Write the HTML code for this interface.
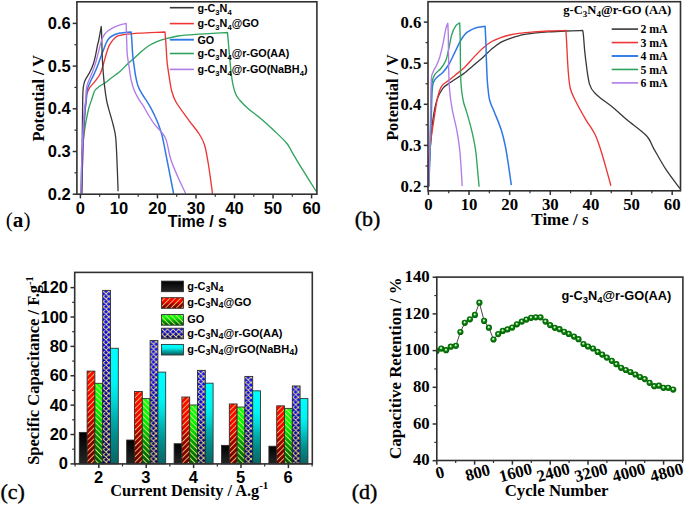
<!DOCTYPE html>
<html><head><meta charset="utf-8"><style>
html,body{margin:0;padding:0;background:#fff;}
svg{display:block;}
</style></head><body>
<svg width="685" height="505" viewBox="0 0 685 505">
<defs>
<linearGradient id="gK" x1="0" y1="0" x2="0" y2="1"><stop offset="0" stop-color="#000"/><stop offset="1" stop-color="#262626"/></linearGradient>
<linearGradient id="gR" x1="0" y1="0" x2="0" y2="1"><stop offset="0" stop-color="#ff0800"/><stop offset="0.3" stop-color="#ff0000"/><stop offset="0.45" stop-color="#e40000"/><stop offset="0.6" stop-color="#a80000"/><stop offset="0.75" stop-color="#8a0000"/><stop offset="1" stop-color="#6c0000"/></linearGradient>
<linearGradient id="gG" x1="0" y1="0" x2="0" y2="1"><stop offset="0" stop-color="#18ff18"/><stop offset="0.3" stop-color="#00f600"/><stop offset="0.45" stop-color="#00d400"/><stop offset="0.6" stop-color="#00a400"/><stop offset="0.75" stop-color="#008400"/><stop offset="1" stop-color="#005600"/></linearGradient>
<linearGradient id="gB" x1="0" y1="0" x2="0" y2="1"><stop offset="0" stop-color="#1414ff"/><stop offset="0.3" stop-color="#0000f4"/><stop offset="0.45" stop-color="#0000d4"/><stop offset="0.6" stop-color="#0000aa"/><stop offset="0.75" stop-color="#00008c"/><stop offset="1" stop-color="#000062"/></linearGradient>
<linearGradient id="gC" x1="0" y1="0" x2="0" y2="1"><stop offset="0" stop-color="#00ffff"/><stop offset="0.3" stop-color="#00f4f4"/><stop offset="0.45" stop-color="#00d8d8"/><stop offset="0.6" stop-color="#00b0b0"/><stop offset="0.75" stop-color="#008e8e"/><stop offset="1" stop-color="#0a6464"/></linearGradient>
<pattern id="pR" width="3.8" height="10" patternUnits="userSpaceOnUse" patternTransform="rotate(45)"><rect x="0" y="0" width="0.95" height="10" fill="#e4bc5c"/></pattern>
<pattern id="pG" width="3.8" height="10" patternUnits="userSpaceOnUse" patternTransform="rotate(-45)"><rect x="0" y="0" width="0.95" height="10" fill="#d4e478"/></pattern>
<radialGradient id="ball" cx="0.5" cy="0.5" r="0.5" fx="0.45" fy="0.38"><stop offset="0" stop-color="#ffffff"/><stop offset="0.22" stop-color="#b8e0b8"/><stop offset="0.45" stop-color="#0c880c"/><stop offset="1" stop-color="#005a00"/></radialGradient>
<clipPath id="clipD"><rect x="436.8" y="277.1" width="246.1" height="183.4"/></clipPath><pattern id="pX1" x="103.20" y="291.35" width="5.600" height="5.100" patternUnits="userSpaceOnUse"><path d="M-1.000 -6.011L6.600 0.911M-1.000 0.911L6.600 -6.011M-1.000 -0.911L6.600 6.011M-1.000 6.011L6.600 -0.911M-1.000 4.189L6.600 11.111M-1.000 11.111L6.600 4.189" stroke="#eedc74" stroke-width="1.0" fill="none"/></pattern>
<pattern id="pX2" x="150.60" y="341.58" width="5.600" height="5.100" patternUnits="userSpaceOnUse"><path d="M-1.000 -6.011L6.600 0.911M-1.000 0.911L6.600 -6.011M-1.000 -0.911L6.600 6.011M-1.000 6.011L6.600 -0.911M-1.000 4.189L6.600 11.111M-1.000 11.111L6.600 4.189" stroke="#eedc74" stroke-width="1.0" fill="none"/></pattern>
<pattern id="pX3" x="198.00" y="371.35" width="5.600" height="5.100" patternUnits="userSpaceOnUse"><path d="M-1.000 -6.011L6.600 0.911M-1.000 0.911L6.600 -6.011M-1.000 -0.911L6.600 6.011M-1.000 6.011L6.600 -0.911M-1.000 4.189L6.600 11.111M-1.000 11.111L6.600 4.189" stroke="#eedc74" stroke-width="1.0" fill="none"/></pattern>
<pattern id="pX4" x="245.40" y="377.39" width="5.600" height="5.100" patternUnits="userSpaceOnUse"><path d="M-1.000 -6.011L6.600 0.911M-1.000 0.911L6.600 -6.011M-1.000 -0.911L6.600 6.011M-1.000 6.011L6.600 -0.911M-1.000 4.189L6.600 11.111M-1.000 11.111L6.600 4.189" stroke="#eedc74" stroke-width="1.0" fill="none"/></pattern>
<pattern id="pX5" x="292.80" y="386.96" width="5.600" height="5.100" patternUnits="userSpaceOnUse"><path d="M-1.000 -6.011L6.600 0.911M-1.000 0.911L6.600 -6.011M-1.000 -0.911L6.600 6.011M-1.000 6.011L6.600 -0.911M-1.000 4.189L6.600 11.111M-1.000 11.111L6.600 4.189" stroke="#eedc74" stroke-width="1.0" fill="none"/></pattern>
<pattern id="pX6" x="161.90" y="329.20" width="5.600" height="5.100" patternUnits="userSpaceOnUse"><path d="M-1.000 -6.011L6.600 0.911M-1.000 0.911L6.600 -6.011M-1.000 -0.911L6.600 6.011M-1.000 6.011L6.600 -0.911M-1.000 4.189L6.600 11.111M-1.000 11.111L6.600 4.189" stroke="#eedc74" stroke-width="1.0" fill="none"/></pattern></defs>
<rect x="0" y="0" width="685" height="505" fill="#fff"/>
<path d="M80.80 193.60C80.92 189.67 81.27 176.98 81.50 170.00C81.73 163.02 81.67 158.47 82.20 151.70C82.73 144.93 83.67 136.42 84.70 129.40C85.73 122.38 87.25 114.52 88.40 109.60C89.55 104.68 90.57 103.00 91.60 99.90C92.63 96.80 93.30 93.27 94.60 91.00C95.90 88.73 97.62 87.68 99.40 86.30C101.18 84.92 103.53 83.92 105.30 82.70C107.07 81.48 107.57 80.85 110.00 79.00C112.43 77.15 116.93 74.15 119.90 71.60C122.87 69.05 125.32 66.02 127.80 63.70C130.28 61.38 132.48 59.77 134.80 57.70C137.12 55.63 139.23 53.37 141.70 51.30C144.17 49.23 146.97 46.95 149.60 45.30C152.23 43.65 154.87 42.47 157.50 41.40C160.13 40.33 162.02 39.80 165.40 38.90C168.78 38.00 172.77 36.77 177.80 36.00C182.83 35.23 187.32 34.88 195.60 34.30C203.88 33.72 222.18 32.80 227.50 32.50C227.73 35.22 228.33 42.47 228.90 48.80C229.47 55.13 230.23 64.57 230.90 70.50C231.57 76.43 232.08 80.43 232.90 84.40C233.72 88.37 234.65 91.67 235.80 94.30C236.95 96.93 237.82 97.88 239.80 100.20C241.78 102.52 244.73 105.55 247.70 108.20C250.67 110.85 254.30 113.38 257.60 116.10C260.90 118.82 264.77 122.10 267.50 124.50C270.23 126.90 270.83 127.42 274.00 130.50C277.17 133.58 283.52 139.43 286.50 143.00C289.48 146.57 289.22 147.45 291.90 151.90C294.58 156.35 298.53 163.10 302.60 169.70C306.67 176.30 314.02 187.87 316.30 191.50" fill="none" stroke="#2ea35c" stroke-width="1.35" stroke-linejoin="round"/>
<path d="M81.80 193.60C81.93 188.00 82.15 172.27 82.60 160.00C83.05 147.73 83.85 130.50 84.50 120.00C85.15 109.50 86.00 101.63 86.50 97.00C87.00 92.37 86.93 93.80 87.50 92.20C88.07 90.60 88.52 89.38 89.90 87.40C91.28 85.42 94.03 82.67 95.80 80.30C97.57 77.93 99.22 75.97 100.50 73.20C101.78 70.43 102.50 67.07 103.50 63.70C104.50 60.33 105.68 55.72 106.50 53.00C107.32 50.28 107.82 48.87 108.40 47.40C108.98 45.93 109.23 45.45 110.00 44.20C110.77 42.95 111.85 41.20 113.00 39.90C114.15 38.60 115.42 37.22 116.90 36.40C118.38 35.58 119.60 35.42 121.90 35.00C124.20 34.58 127.75 34.20 130.70 33.90C133.65 33.60 136.45 33.40 139.60 33.20C142.75 33.00 145.37 32.90 149.60 32.70C153.83 32.50 162.43 32.12 165.00 32.00C165.17 34.15 165.68 40.28 166.00 44.90C166.32 49.52 166.62 56.03 166.90 59.70C167.18 63.37 167.27 63.72 167.70 66.90C168.13 70.08 168.85 74.85 169.50 78.80C170.15 82.75 170.52 86.73 171.60 90.60C172.68 94.47 173.18 97.13 176.00 102.00C178.82 106.87 184.63 114.47 188.50 119.80C192.37 125.13 196.53 129.85 199.20 134.00C201.87 138.15 203.02 139.95 204.50 144.70C205.98 149.45 206.90 155.37 208.10 162.50C209.30 169.63 210.98 182.32 211.70 187.50C212.42 192.68 212.28 192.58 212.40 193.60" fill="none" stroke="#ee3535" stroke-width="1.35" stroke-linejoin="round"/>
<path d="M81.50 193.60C81.67 188.00 82.18 170.28 82.50 160.00C82.82 149.72 82.98 140.23 83.40 131.90C83.82 123.57 84.52 115.33 85.00 110.00C85.48 104.67 85.98 103.07 86.30 99.90C86.62 96.73 86.30 93.87 86.90 91.00C87.50 88.13 88.82 85.27 89.90 82.70C90.98 80.13 92.22 78.17 93.40 75.60C94.58 73.03 95.82 70.27 97.00 67.30C98.18 64.33 99.32 60.97 100.50 57.80C101.68 54.63 103.08 50.92 104.10 48.30C105.12 45.68 105.62 43.92 106.60 42.10C107.58 40.28 108.60 38.67 110.00 37.40C111.40 36.13 113.35 35.23 115.00 34.50C116.65 33.77 118.25 33.33 119.90 33.00C121.55 32.67 123.03 32.68 124.90 32.50C126.77 32.32 130.07 32.00 131.10 31.90C131.22 33.23 131.53 36.05 131.80 39.90C132.07 43.75 132.35 50.90 132.70 55.00C133.05 59.10 133.40 60.93 133.90 64.50C134.40 68.07 135.02 72.83 135.70 76.40C136.38 79.97 136.92 82.93 138.00 85.90C139.08 88.87 140.72 91.63 142.20 94.20C143.68 96.77 145.52 99.12 146.90 101.30C148.28 103.48 149.30 105.12 150.50 107.30C151.70 109.48 152.82 111.65 154.10 114.40C155.38 117.15 156.87 120.27 158.20 123.80C159.53 127.33 160.78 130.33 162.10 135.60C163.42 140.87 164.78 148.80 166.10 155.40C167.42 162.00 168.75 168.83 170.00 175.20C171.25 181.57 173.00 190.53 173.60 193.60" fill="none" stroke="#2f78e6" stroke-width="1.5" stroke-linejoin="round"/>
<path d="M81.60 193.00C81.70 184.83 82.02 159.52 82.20 144.00C82.38 128.48 82.52 109.33 82.70 99.90C82.88 90.47 82.90 90.67 83.30 87.40C83.70 84.13 84.00 82.87 85.10 80.30C86.20 77.73 88.52 74.77 89.90 72.00C91.28 69.23 92.42 66.67 93.40 63.70C94.38 60.73 95.10 57.37 95.80 54.20C96.50 51.03 97.10 47.07 97.60 44.70C98.10 42.33 98.20 43.03 98.80 40.00C99.40 36.97 100.80 28.75 101.20 26.50C101.27 27.58 101.42 27.78 101.60 33.00C101.78 38.22 101.98 50.70 102.30 57.80C102.62 64.90 103.10 70.67 103.50 75.60C103.90 80.53 104.20 83.35 104.70 87.40C105.20 91.45 105.92 96.62 106.50 99.90C107.08 103.18 107.10 103.00 108.20 107.10C109.30 111.20 111.87 119.55 113.10 124.50C114.33 129.45 114.98 131.45 115.60 136.80C116.22 142.15 116.38 147.52 116.80 156.60C117.22 165.68 117.88 185.52 118.10 191.30" fill="none" stroke="#383838" stroke-width="1.3" stroke-linejoin="round"/>
<path d="M81.00 193.60C81.13 188.00 81.43 171.43 81.80 160.00C82.17 148.57 82.73 133.67 83.20 125.00C83.67 116.33 84.18 112.18 84.60 108.00C85.02 103.82 85.42 102.93 85.70 99.90C85.98 96.87 86.00 92.47 86.30 89.80C86.60 87.13 86.72 86.27 87.50 83.90C88.28 81.53 89.82 78.57 91.00 75.60C92.18 72.63 93.60 69.07 94.60 66.10C95.60 63.13 96.20 60.77 97.00 57.80C97.80 54.83 98.62 51.27 99.40 48.30C100.18 45.33 100.80 42.38 101.70 40.00C102.60 37.62 103.68 35.58 104.80 34.00C105.92 32.42 107.07 31.53 108.40 30.50C109.73 29.47 111.32 28.58 112.80 27.80C114.28 27.02 115.82 26.37 117.30 25.80C118.78 25.23 120.22 24.78 121.70 24.40C123.18 24.02 125.45 23.65 126.20 23.50C126.25 25.42 126.40 31.43 126.50 35.00C126.60 38.57 126.67 41.57 126.80 44.90C126.93 48.23 126.92 51.33 127.30 55.00C127.68 58.67 128.50 62.93 129.10 66.90C129.70 70.87 130.10 75.05 130.90 78.80C131.70 82.55 132.62 86.05 133.90 89.40C135.18 92.75 137.02 96.12 138.60 98.90C140.18 101.68 141.82 103.52 143.40 106.10C144.98 108.68 146.30 111.45 148.10 114.40C149.90 117.35 152.03 120.92 154.20 123.80C156.37 126.68 159.12 129.07 161.10 131.70C163.08 134.33 164.50 135.05 166.10 139.60C167.70 144.15 168.75 152.80 170.70 159.00C172.65 165.20 175.30 171.03 177.80 176.80C180.30 182.57 184.38 190.80 185.70 193.60" fill="none" stroke="#b07ce8" stroke-width="1.35" stroke-linejoin="round"/>
<rect x="76.90" y="1.80" width="240.00" height="192.40" fill="none" stroke="#303030" stroke-width="1.6"/>
<line x1="72.70" y1="194.20" x2="76.90" y2="194.20" stroke="#303030" stroke-width="1.5" />
<text x="70.80" y="199.60" font-family='"Liberation Sans", sans-serif' font-size="16.5" font-weight="bold" text-anchor="end" >0.2</text>
<line x1="72.70" y1="151.50" x2="76.90" y2="151.50" stroke="#303030" stroke-width="1.5" />
<text x="70.80" y="156.90" font-family='"Liberation Sans", sans-serif' font-size="16.5" font-weight="bold" text-anchor="end" >0.3</text>
<line x1="72.70" y1="108.80" x2="76.90" y2="108.80" stroke="#303030" stroke-width="1.5" />
<text x="70.80" y="114.20" font-family='"Liberation Sans", sans-serif' font-size="16.5" font-weight="bold" text-anchor="end" >0.4</text>
<line x1="72.70" y1="66.10" x2="76.90" y2="66.10" stroke="#303030" stroke-width="1.5" />
<text x="70.80" y="71.50" font-family='"Liberation Sans", sans-serif' font-size="16.5" font-weight="bold" text-anchor="end" >0.5</text>
<line x1="72.70" y1="23.40" x2="76.90" y2="23.40" stroke="#303030" stroke-width="1.5" />
<text x="70.80" y="28.80" font-family='"Liberation Sans", sans-serif' font-size="16.5" font-weight="bold" text-anchor="end" >0.6</text>
<line x1="74.40" y1="172.85" x2="76.90" y2="172.85" stroke="#303030" stroke-width="1.2" />
<line x1="74.40" y1="130.15" x2="76.90" y2="130.15" stroke="#303030" stroke-width="1.2" />
<line x1="74.40" y1="87.45" x2="76.90" y2="87.45" stroke="#303030" stroke-width="1.2" />
<line x1="74.40" y1="44.75" x2="76.90" y2="44.75" stroke="#303030" stroke-width="1.2" />
<line x1="80.40" y1="194.20" x2="80.40" y2="198.40" stroke="#303030" stroke-width="1.5" />
<text x="80.40" y="213.60" font-family='"Liberation Sans", sans-serif' font-size="16.5" font-weight="bold" text-anchor="middle" >0</text>
<line x1="118.93" y1="194.20" x2="118.93" y2="198.40" stroke="#303030" stroke-width="1.5" />
<text x="118.93" y="213.60" font-family='"Liberation Sans", sans-serif' font-size="16.5" font-weight="bold" text-anchor="middle" >10</text>
<line x1="157.46" y1="194.20" x2="157.46" y2="198.40" stroke="#303030" stroke-width="1.5" />
<text x="157.46" y="213.60" font-family='"Liberation Sans", sans-serif' font-size="16.5" font-weight="bold" text-anchor="middle" >20</text>
<line x1="195.99" y1="194.20" x2="195.99" y2="198.40" stroke="#303030" stroke-width="1.5" />
<text x="195.99" y="213.60" font-family='"Liberation Sans", sans-serif' font-size="16.5" font-weight="bold" text-anchor="middle" >30</text>
<line x1="234.52" y1="194.20" x2="234.52" y2="198.40" stroke="#303030" stroke-width="1.5" />
<text x="234.52" y="213.60" font-family='"Liberation Sans", sans-serif' font-size="16.5" font-weight="bold" text-anchor="middle" >40</text>
<line x1="273.05" y1="194.20" x2="273.05" y2="198.40" stroke="#303030" stroke-width="1.5" />
<text x="273.05" y="213.60" font-family='"Liberation Sans", sans-serif' font-size="16.5" font-weight="bold" text-anchor="middle" >50</text>
<line x1="311.58" y1="194.20" x2="311.58" y2="198.40" stroke="#303030" stroke-width="1.5" />
<text x="311.58" y="213.60" font-family='"Liberation Sans", sans-serif' font-size="16.5" font-weight="bold" text-anchor="middle" >60</text>
<line x1="99.67" y1="194.20" x2="99.67" y2="196.70" stroke="#303030" stroke-width="1.2" />
<line x1="138.19" y1="194.20" x2="138.19" y2="196.70" stroke="#303030" stroke-width="1.2" />
<line x1="176.73" y1="194.20" x2="176.73" y2="196.70" stroke="#303030" stroke-width="1.2" />
<line x1="215.26" y1="194.20" x2="215.26" y2="196.70" stroke="#303030" stroke-width="1.2" />
<line x1="253.79" y1="194.20" x2="253.79" y2="196.70" stroke="#303030" stroke-width="1.2" />
<line x1="292.32" y1="194.20" x2="292.32" y2="196.70" stroke="#303030" stroke-width="1.2" />
<text x="44.20" y="98.20" font-family='"Liberation Serif", serif' font-size="16.3" font-weight="bold" text-anchor="middle" transform="rotate(-90 44.2 98.2)">Potential / V</text>
<text x="197.30" y="226.50" font-family='"Liberation Sans", sans-serif' font-size="16" font-weight="bold" text-anchor="middle" >Time / s</text>
<text x="5.80" y="226.80" font-family='"Liberation Serif", serif' font-size="21.2" font-weight="normal" text-anchor="start" >(<tspan font-weight="bold">a</tspan>)</text>
<line x1="169.80" y1="7.70" x2="193.90" y2="7.70" stroke="#383838" stroke-width="1.6" />
<g transform="translate(197.40 11.50) scale(0.955 1)"><text x="0" y="0" font-family='"Liberation Sans", sans-serif' font-size="11.3" font-weight="bold" text-anchor="start" >g-C<tspan baseline-shift="-3" font-size="8">3</tspan>N<tspan baseline-shift="-3" font-size="8">4</tspan></text></g>
<line x1="169.80" y1="23.60" x2="193.90" y2="23.60" stroke="#ee3535" stroke-width="1.6" />
<g transform="translate(197.40 27.40) scale(0.955 1)"><text x="0" y="0" font-family='"Liberation Sans", sans-serif' font-size="11.3" font-weight="bold" text-anchor="start" >g-C<tspan baseline-shift="-3" font-size="8">3</tspan>N<tspan baseline-shift="-3" font-size="8">4</tspan>@GO</text></g>
<line x1="169.80" y1="39.70" x2="193.90" y2="39.70" stroke="#2f78e6" stroke-width="1.9" />
<g transform="translate(197.40 43.50) scale(0.955 1)"><text x="0" y="0" font-family='"Liberation Sans", sans-serif' font-size="11.3" font-weight="bold" text-anchor="start" >GO</text></g>
<line x1="169.80" y1="53.50" x2="193.90" y2="53.50" stroke="#2ea35c" stroke-width="1.6" />
<g transform="translate(197.40 57.30) scale(0.955 1)"><text x="0" y="0" font-family='"Liberation Sans", sans-serif' font-size="11.3" font-weight="bold" text-anchor="start" >g-C<tspan baseline-shift="-3" font-size="8">3</tspan>N<tspan baseline-shift="-3" font-size="8">4</tspan>@r-GO(AA)</text></g>
<line x1="169.80" y1="69.40" x2="193.90" y2="69.40" stroke="#b07ce8" stroke-width="1.6" />
<g transform="translate(197.40 73.20) scale(0.955 1)"><text x="0" y="0" font-family='"Liberation Sans", sans-serif' font-size="11.3" font-weight="bold" text-anchor="start" >g-C<tspan baseline-shift="-3" font-size="8">3</tspan>N<tspan baseline-shift="-3" font-size="8">4</tspan>@r-GO(NaBH<tspan baseline-shift="-3" font-size="8">4</tspan>)</text></g>
<path d="M428.50 186.50C428.67 181.98 428.77 170.52 429.50 159.40C430.23 148.28 431.67 129.68 432.90 119.80C434.13 109.92 435.25 105.35 436.90 100.10C438.55 94.85 440.50 91.27 442.80 88.30C445.10 85.33 447.40 84.62 450.70 82.30C454.00 79.98 459.62 76.52 462.60 74.40C465.58 72.28 466.72 71.15 468.60 69.60C470.48 68.05 471.53 67.12 473.90 65.10C476.27 63.08 479.83 60.17 482.80 57.50C485.77 54.83 488.72 51.62 491.70 49.10C494.68 46.58 497.72 44.15 500.70 42.40C503.68 40.65 506.63 39.70 509.60 38.60C512.57 37.50 515.68 36.53 518.50 35.80C521.32 35.07 523.95 34.63 526.50 34.20C529.05 33.77 530.15 33.58 533.80 33.20C537.45 32.82 543.05 32.27 548.40 31.90C553.75 31.53 560.18 31.23 565.90 31.00C571.62 30.77 579.90 30.58 582.70 30.50C582.83 31.42 583.08 31.82 583.50 36.00C583.92 40.18 584.20 47.58 585.20 55.60C586.20 63.62 587.60 77.57 589.50 84.10C591.40 90.63 592.73 90.93 596.60 94.80C600.47 98.67 607.65 103.13 612.70 107.30C617.75 111.47 621.27 115.05 626.90 119.80C632.53 124.55 642.05 131.05 646.50 135.80C650.95 140.55 650.33 142.65 653.60 148.30C656.87 153.95 661.70 162.98 666.10 169.70C670.50 176.42 677.68 185.45 680.00 188.60" fill="none" stroke="#383838" stroke-width="1.3" stroke-linejoin="round"/>
<path d="M428.50 186.50C428.58 181.98 428.58 167.22 429.00 159.40C429.42 151.58 430.18 146.20 431.00 139.60C431.82 133.00 432.82 126.73 433.90 119.80C434.98 112.87 436.23 103.58 437.50 98.00C438.77 92.42 439.62 89.25 441.50 86.30C443.38 83.35 446.48 82.18 448.80 80.30C451.12 78.42 452.70 77.23 455.40 75.00C458.10 72.77 461.92 69.88 465.00 66.90C468.08 63.92 470.93 60.22 473.90 57.10C476.87 53.98 479.83 50.80 482.80 48.20C485.77 45.60 488.72 43.27 491.70 41.50C494.68 39.73 497.72 38.68 500.70 37.60C503.68 36.52 506.63 35.70 509.60 35.00C512.57 34.30 514.47 33.92 518.50 33.40C522.53 32.88 528.82 32.30 533.80 31.90C538.78 31.50 543.05 31.23 548.40 31.00C553.75 30.77 562.98 30.58 565.90 30.50C566.02 32.40 566.23 35.38 566.60 41.90C566.97 48.42 567.50 61.92 568.10 69.60C568.70 77.28 569.02 82.90 570.20 88.00C571.38 93.10 572.58 94.90 575.20 100.20C577.82 105.50 582.63 114.17 585.90 119.80C589.17 125.43 592.42 129.25 594.80 134.00C597.18 138.75 598.42 142.95 600.20 148.30C601.98 153.65 603.72 159.87 605.50 166.10C607.28 172.33 610.00 182.43 610.90 185.70" fill="none" stroke="#ee3535" stroke-width="1.35" stroke-linejoin="round"/>
<path d="M428.80 186.50C428.97 182.08 429.38 171.92 429.80 160.00C430.22 148.08 430.85 127.28 431.30 115.00C431.75 102.72 431.73 92.40 432.50 86.30C433.27 80.20 434.18 80.72 435.90 78.40C437.62 76.08 440.65 74.72 442.80 72.40C444.95 70.08 446.82 67.80 448.80 64.50C450.78 61.20 452.73 56.57 454.70 52.60C456.67 48.63 458.88 43.77 460.60 40.70C462.32 37.63 463.52 35.85 465.00 34.20C466.48 32.55 468.02 31.73 469.50 30.80C470.98 29.87 472.42 29.20 473.90 28.60C475.38 28.00 476.53 27.58 478.40 27.20C480.27 26.82 483.98 26.45 485.10 26.30C485.23 29.05 485.68 37.08 485.90 42.80C486.12 48.52 486.22 55.23 486.40 60.60C486.58 65.97 486.80 71.05 487.00 75.00C487.20 78.95 487.17 80.13 487.60 84.30C488.03 88.47 488.48 95.40 489.60 100.00C490.72 104.60 492.37 106.95 494.30 111.90C496.23 116.85 499.38 124.10 501.20 129.70C503.02 135.30 504.03 139.88 505.20 145.50C506.37 151.12 507.18 156.80 508.20 163.40C509.22 170.00 510.78 181.48 511.30 185.10" fill="none" stroke="#2f78e6" stroke-width="1.5" stroke-linejoin="round"/>
<path d="M428.80 186.50C428.93 182.08 429.23 171.92 429.60 160.00C429.97 148.08 430.62 127.62 431.00 115.00C431.38 102.38 431.25 91.07 431.90 84.30C432.55 77.53 433.42 77.03 434.90 74.40C436.38 71.77 438.98 70.82 440.80 68.50C442.62 66.18 444.47 63.80 445.80 60.50C447.13 57.20 447.82 52.98 448.80 48.70C449.78 44.42 450.55 38.60 451.70 34.80C452.85 31.00 454.37 27.88 455.70 25.90C457.03 23.92 459.03 23.40 459.70 22.90C459.78 25.55 460.05 30.22 460.20 38.80C460.35 47.38 460.37 65.83 460.60 74.40C460.83 82.97 461.12 85.60 461.60 90.20C462.08 94.80 462.67 98.38 463.50 102.00C464.33 105.62 465.27 107.28 466.60 111.90C467.93 116.52 470.02 123.43 471.50 129.70C472.98 135.97 474.50 142.90 475.50 149.50C476.50 156.10 476.90 163.10 477.50 169.30C478.10 175.50 478.83 183.80 479.10 186.70" fill="none" stroke="#2ea35c" stroke-width="1.35" stroke-linejoin="round"/>
<path d="M428.80 186.50C428.92 182.08 429.22 171.92 429.50 160.00C429.78 148.08 430.20 128.28 430.50 115.00C430.80 101.72 430.90 87.40 431.30 80.30C431.70 73.20 431.97 75.03 432.90 72.40C433.83 69.77 435.73 67.13 436.90 64.50C438.07 61.87 438.92 59.90 439.90 56.60C440.88 53.30 441.82 49.32 442.80 44.70C443.78 40.08 444.97 32.47 445.80 28.90C446.63 25.33 447.47 24.23 447.80 23.30C447.88 25.25 448.18 29.78 448.30 35.00C448.42 40.22 448.38 47.05 448.50 54.60C448.62 62.15 448.72 73.40 449.00 80.30C449.28 87.20 449.58 90.73 450.20 96.00C450.82 101.27 451.62 106.28 452.70 111.90C453.78 117.52 455.53 123.43 456.70 129.70C457.87 135.97 458.95 142.90 459.70 149.50C460.45 156.10 460.78 163.20 461.20 169.30C461.62 175.40 462.03 183.30 462.20 186.10" fill="none" stroke="#b07ce8" stroke-width="1.35" stroke-linejoin="round"/>
<rect x="428.00" y="1.70" width="252.50" height="189.10" fill="none" stroke="#303030" stroke-width="1.6"/>
<line x1="423.80" y1="186.50" x2="428.00" y2="186.50" stroke="#303030" stroke-width="1.5" />
<text x="421.40" y="192.10" font-family='"Liberation Serif", serif' font-size="16.8" font-weight="bold" text-anchor="end" >0.2</text>
<line x1="423.80" y1="145.40" x2="428.00" y2="145.40" stroke="#303030" stroke-width="1.5" />
<text x="421.40" y="151.00" font-family='"Liberation Serif", serif' font-size="16.8" font-weight="bold" text-anchor="end" >0.3</text>
<line x1="423.80" y1="104.30" x2="428.00" y2="104.30" stroke="#303030" stroke-width="1.5" />
<text x="421.40" y="109.90" font-family='"Liberation Serif", serif' font-size="16.8" font-weight="bold" text-anchor="end" >0.4</text>
<line x1="423.80" y1="63.20" x2="428.00" y2="63.20" stroke="#303030" stroke-width="1.5" />
<text x="421.40" y="68.80" font-family='"Liberation Serif", serif' font-size="16.8" font-weight="bold" text-anchor="end" >0.5</text>
<line x1="423.80" y1="22.10" x2="428.00" y2="22.10" stroke="#303030" stroke-width="1.5" />
<text x="421.40" y="27.70" font-family='"Liberation Serif", serif' font-size="16.8" font-weight="bold" text-anchor="end" >0.6</text>
<line x1="425.50" y1="165.95" x2="428.00" y2="165.95" stroke="#303030" stroke-width="1.2" />
<line x1="425.50" y1="124.85" x2="428.00" y2="124.85" stroke="#303030" stroke-width="1.2" />
<line x1="425.50" y1="83.75" x2="428.00" y2="83.75" stroke="#303030" stroke-width="1.2" />
<line x1="425.50" y1="42.65" x2="428.00" y2="42.65" stroke="#303030" stroke-width="1.2" />
<line x1="428.40" y1="190.80" x2="428.40" y2="195.00" stroke="#303030" stroke-width="1.5" />
<text x="428.40" y="209.50" font-family='"Liberation Serif", serif' font-size="16.8" font-weight="bold" text-anchor="middle" >0</text>
<line x1="469.03" y1="190.80" x2="469.03" y2="195.00" stroke="#303030" stroke-width="1.5" />
<text x="469.03" y="209.50" font-family='"Liberation Serif", serif' font-size="16.8" font-weight="bold" text-anchor="middle" >10</text>
<line x1="509.66" y1="190.80" x2="509.66" y2="195.00" stroke="#303030" stroke-width="1.5" />
<text x="509.66" y="209.50" font-family='"Liberation Serif", serif' font-size="16.8" font-weight="bold" text-anchor="middle" >20</text>
<line x1="550.29" y1="190.80" x2="550.29" y2="195.00" stroke="#303030" stroke-width="1.5" />
<text x="550.29" y="209.50" font-family='"Liberation Serif", serif' font-size="16.8" font-weight="bold" text-anchor="middle" >30</text>
<line x1="590.92" y1="190.80" x2="590.92" y2="195.00" stroke="#303030" stroke-width="1.5" />
<text x="590.92" y="209.50" font-family='"Liberation Serif", serif' font-size="16.8" font-weight="bold" text-anchor="middle" >40</text>
<line x1="631.55" y1="190.80" x2="631.55" y2="195.00" stroke="#303030" stroke-width="1.5" />
<text x="631.55" y="209.50" font-family='"Liberation Serif", serif' font-size="16.8" font-weight="bold" text-anchor="middle" >50</text>
<line x1="672.18" y1="190.80" x2="672.18" y2="195.00" stroke="#303030" stroke-width="1.5" />
<text x="672.18" y="209.50" font-family='"Liberation Serif", serif' font-size="16.8" font-weight="bold" text-anchor="middle" >60</text>
<line x1="448.71" y1="190.80" x2="448.71" y2="193.30" stroke="#303030" stroke-width="1.2" />
<line x1="489.34" y1="190.80" x2="489.34" y2="193.30" stroke="#303030" stroke-width="1.2" />
<line x1="529.97" y1="190.80" x2="529.97" y2="193.30" stroke="#303030" stroke-width="1.2" />
<line x1="570.61" y1="190.80" x2="570.61" y2="193.30" stroke="#303030" stroke-width="1.2" />
<line x1="611.23" y1="190.80" x2="611.23" y2="193.30" stroke="#303030" stroke-width="1.2" />
<line x1="651.87" y1="190.80" x2="651.87" y2="193.30" stroke="#303030" stroke-width="1.2" />
<text x="397.80" y="97.60" font-family='"Liberation Serif", serif' font-size="16.3" font-weight="bold" text-anchor="middle" transform="rotate(-90 397.8 97.6)">Potential / V</text>
<text x="560.00" y="225.20" font-family='"Liberation Serif", serif' font-size="17" font-weight="bold" text-anchor="middle" >Time / s</text>
<text x="354.80" y="225.70" font-family='"Liberation Serif", serif' font-size="22" font-weight="normal" text-anchor="start" stroke="#000" stroke-width="0.4">(b)</text>
<text x="671.30" y="14.40" font-family='"Liberation Serif", serif' font-size="12.6" font-weight="bold" text-anchor="end" >g-C<tspan baseline-shift="-3" font-size="9">3</tspan>N<tspan baseline-shift="-3" font-size="9">4</tspan>@r-GO (AA)</text>
<line x1="611.70" y1="29.10" x2="638.10" y2="29.10" stroke="#383838" stroke-width="1.6" />
<text x="640.40" y="33.20" font-family='"Liberation Serif", serif' font-size="11.8" font-weight="bold" text-anchor="start" >2 mA</text>
<line x1="611.70" y1="42.55" x2="638.10" y2="42.55" stroke="#ee3535" stroke-width="1.6" />
<text x="640.40" y="46.65" font-family='"Liberation Serif", serif' font-size="11.8" font-weight="bold" text-anchor="start" >3 mA</text>
<line x1="611.70" y1="56.00" x2="638.10" y2="56.00" stroke="#2f78e6" stroke-width="1.9" />
<text x="640.40" y="60.10" font-family='"Liberation Serif", serif' font-size="11.8" font-weight="bold" text-anchor="start" >4 mA</text>
<line x1="611.70" y1="69.45" x2="638.10" y2="69.45" stroke="#2ea35c" stroke-width="1.6" />
<text x="640.40" y="73.55" font-family='"Liberation Serif", serif' font-size="11.8" font-weight="bold" text-anchor="start" >5 mA</text>
<line x1="611.70" y1="82.90" x2="638.10" y2="82.90" stroke="#b07ce8" stroke-width="1.6" />
<text x="640.40" y="87.00" font-family='"Liberation Serif", serif' font-size="11.8" font-weight="bold" text-anchor="start" >6 mA</text>
<rect x="79.30" y="432.37" width="7.80" height="31.53" fill="url(#gK)"/>
<rect x="79.30" y="432.37" width="7.80" height="31.53" fill="none" stroke="#2a2a2a" stroke-width="0.85"/>
<rect x="87.10" y="371.08" width="7.80" height="92.82" fill="url(#gR)"/>
<rect x="87.10" y="371.08" width="7.80" height="92.82" fill="url(#pR)"/>
<rect x="87.10" y="371.08" width="7.80" height="92.82" fill="none" stroke="#2a2a2a" stroke-width="0.85"/>
<rect x="94.90" y="383.31" width="7.80" height="80.59" fill="url(#gG)"/>
<rect x="94.90" y="383.31" width="7.80" height="80.59" fill="url(#pG)"/>
<rect x="94.90" y="383.31" width="7.80" height="80.59" fill="none" stroke="#2a2a2a" stroke-width="0.85"/>
<rect x="102.70" y="290.35" width="7.80" height="173.55" fill="url(#gB)"/>
<rect x="102.70" y="290.35" width="7.80" height="173.55" fill="url(#pX1)"/>
<rect x="102.70" y="290.35" width="7.80" height="173.55" fill="none" stroke="#2a2a2a" stroke-width="0.85"/>
<rect x="110.50" y="348.25" width="7.80" height="115.65" fill="url(#gC)"/>
<rect x="110.50" y="348.25" width="7.80" height="115.65" fill="none" stroke="#2a2a2a" stroke-width="0.85"/>
<rect x="126.70" y="440.03" width="7.80" height="23.87" fill="url(#gK)"/>
<rect x="126.70" y="440.03" width="7.80" height="23.87" fill="none" stroke="#2a2a2a" stroke-width="0.85"/>
<rect x="134.50" y="391.56" width="7.80" height="72.34" fill="url(#gR)"/>
<rect x="134.50" y="391.56" width="7.80" height="72.34" fill="url(#pR)"/>
<rect x="134.50" y="391.56" width="7.80" height="72.34" fill="none" stroke="#2a2a2a" stroke-width="0.85"/>
<rect x="142.30" y="398.63" width="7.80" height="65.27" fill="url(#gG)"/>
<rect x="142.30" y="398.63" width="7.80" height="65.27" fill="url(#pG)"/>
<rect x="142.30" y="398.63" width="7.80" height="65.27" fill="none" stroke="#2a2a2a" stroke-width="0.85"/>
<rect x="150.10" y="340.58" width="7.80" height="123.32" fill="url(#gB)"/>
<rect x="150.10" y="340.58" width="7.80" height="123.32" fill="url(#pX2)"/>
<rect x="150.10" y="340.58" width="7.80" height="123.32" fill="none" stroke="#2a2a2a" stroke-width="0.85"/>
<rect x="157.90" y="372.11" width="7.80" height="91.79" fill="url(#gC)"/>
<rect x="157.90" y="372.11" width="7.80" height="91.79" fill="none" stroke="#2a2a2a" stroke-width="0.85"/>
<rect x="174.10" y="443.72" width="7.80" height="20.18" fill="url(#gK)"/>
<rect x="174.10" y="443.72" width="7.80" height="20.18" fill="none" stroke="#2a2a2a" stroke-width="0.85"/>
<rect x="181.90" y="397.01" width="7.80" height="66.89" fill="url(#gR)"/>
<rect x="181.90" y="397.01" width="7.80" height="66.89" fill="url(#pR)"/>
<rect x="181.90" y="397.01" width="7.80" height="66.89" fill="none" stroke="#2a2a2a" stroke-width="0.85"/>
<rect x="189.70" y="404.97" width="7.80" height="58.93" fill="url(#gG)"/>
<rect x="189.70" y="404.97" width="7.80" height="58.93" fill="url(#pG)"/>
<rect x="189.70" y="404.97" width="7.80" height="58.93" fill="none" stroke="#2a2a2a" stroke-width="0.85"/>
<rect x="197.50" y="370.35" width="7.80" height="93.55" fill="url(#gB)"/>
<rect x="197.50" y="370.35" width="7.80" height="93.55" fill="url(#pX3)"/>
<rect x="197.50" y="370.35" width="7.80" height="93.55" fill="none" stroke="#2a2a2a" stroke-width="0.85"/>
<rect x="205.30" y="383.16" width="7.80" height="80.74" fill="url(#gC)"/>
<rect x="205.30" y="383.16" width="7.80" height="80.74" fill="none" stroke="#2a2a2a" stroke-width="0.85"/>
<rect x="221.50" y="445.34" width="7.80" height="18.56" fill="url(#gK)"/>
<rect x="221.50" y="445.34" width="7.80" height="18.56" fill="none" stroke="#2a2a2a" stroke-width="0.85"/>
<rect x="229.30" y="403.94" width="7.80" height="59.96" fill="url(#gR)"/>
<rect x="229.30" y="403.94" width="7.80" height="59.96" fill="url(#pR)"/>
<rect x="229.30" y="403.94" width="7.80" height="59.96" fill="none" stroke="#2a2a2a" stroke-width="0.85"/>
<rect x="237.10" y="407.03" width="7.80" height="56.87" fill="url(#gG)"/>
<rect x="237.10" y="407.03" width="7.80" height="56.87" fill="url(#pG)"/>
<rect x="237.10" y="407.03" width="7.80" height="56.87" fill="none" stroke="#2a2a2a" stroke-width="0.85"/>
<rect x="244.90" y="376.39" width="7.80" height="87.51" fill="url(#gB)"/>
<rect x="244.90" y="376.39" width="7.80" height="87.51" fill="url(#pX4)"/>
<rect x="244.90" y="376.39" width="7.80" height="87.51" fill="none" stroke="#2a2a2a" stroke-width="0.85"/>
<rect x="252.70" y="390.82" width="7.80" height="73.08" fill="url(#gC)"/>
<rect x="252.70" y="390.82" width="7.80" height="73.08" fill="none" stroke="#2a2a2a" stroke-width="0.85"/>
<rect x="268.90" y="446.22" width="7.80" height="17.68" fill="url(#gK)"/>
<rect x="268.90" y="446.22" width="7.80" height="17.68" fill="none" stroke="#2a2a2a" stroke-width="0.85"/>
<rect x="276.70" y="405.85" width="7.80" height="58.05" fill="url(#gR)"/>
<rect x="276.70" y="405.85" width="7.80" height="58.05" fill="url(#pR)"/>
<rect x="276.70" y="405.85" width="7.80" height="58.05" fill="none" stroke="#2a2a2a" stroke-width="0.85"/>
<rect x="284.50" y="408.36" width="7.80" height="55.54" fill="url(#gG)"/>
<rect x="284.50" y="408.36" width="7.80" height="55.54" fill="url(#pG)"/>
<rect x="284.50" y="408.36" width="7.80" height="55.54" fill="none" stroke="#2a2a2a" stroke-width="0.85"/>
<rect x="292.30" y="385.96" width="7.80" height="77.94" fill="url(#gB)"/>
<rect x="292.30" y="385.96" width="7.80" height="77.94" fill="url(#pX5)"/>
<rect x="292.30" y="385.96" width="7.80" height="77.94" fill="none" stroke="#2a2a2a" stroke-width="0.85"/>
<rect x="300.10" y="398.63" width="7.80" height="65.27" fill="url(#gC)"/>
<rect x="300.10" y="398.63" width="7.80" height="65.27" fill="none" stroke="#2a2a2a" stroke-width="0.85"/>
<rect x="74.70" y="272.40" width="237.60" height="191.50" fill="none" stroke="#303030" stroke-width="1.6"/>
<line x1="70.50" y1="463.90" x2="74.70" y2="463.90" stroke="#303030" stroke-width="1.5" />
<text x="68.00" y="469.40" font-family='"Liberation Sans", sans-serif' font-size="16.5" font-weight="bold" text-anchor="end" >0</text>
<line x1="70.50" y1="434.52" x2="74.70" y2="434.52" stroke="#303030" stroke-width="1.5" />
<text x="68.00" y="440.02" font-family='"Liberation Sans", sans-serif' font-size="16.5" font-weight="bold" text-anchor="end" >20</text>
<line x1="70.50" y1="405.14" x2="74.70" y2="405.14" stroke="#303030" stroke-width="1.5" />
<text x="68.00" y="410.64" font-family='"Liberation Sans", sans-serif' font-size="16.5" font-weight="bold" text-anchor="end" >40</text>
<line x1="70.50" y1="375.76" x2="74.70" y2="375.76" stroke="#303030" stroke-width="1.5" />
<text x="68.00" y="381.26" font-family='"Liberation Sans", sans-serif' font-size="16.5" font-weight="bold" text-anchor="end" >60</text>
<line x1="70.50" y1="346.38" x2="74.70" y2="346.38" stroke="#303030" stroke-width="1.5" />
<text x="68.00" y="351.88" font-family='"Liberation Sans", sans-serif' font-size="16.5" font-weight="bold" text-anchor="end" >80</text>
<line x1="70.50" y1="317.00" x2="74.70" y2="317.00" stroke="#303030" stroke-width="1.5" />
<text x="68.00" y="322.50" font-family='"Liberation Sans", sans-serif' font-size="16.5" font-weight="bold" text-anchor="end" >100</text>
<line x1="70.50" y1="287.62" x2="74.70" y2="287.62" stroke="#303030" stroke-width="1.5" />
<text x="68.00" y="293.12" font-family='"Liberation Sans", sans-serif' font-size="16.5" font-weight="bold" text-anchor="end" >120</text>
<line x1="72.20" y1="449.21" x2="74.70" y2="449.21" stroke="#303030" stroke-width="1.2" />
<line x1="72.20" y1="419.83" x2="74.70" y2="419.83" stroke="#303030" stroke-width="1.2" />
<line x1="72.20" y1="390.45" x2="74.70" y2="390.45" stroke="#303030" stroke-width="1.2" />
<line x1="72.20" y1="361.07" x2="74.70" y2="361.07" stroke="#303030" stroke-width="1.2" />
<line x1="72.20" y1="331.69" x2="74.70" y2="331.69" stroke="#303030" stroke-width="1.2" />
<line x1="72.20" y1="302.31" x2="74.70" y2="302.31" stroke="#303030" stroke-width="1.2" />
<line x1="98.80" y1="463.90" x2="98.80" y2="468.10" stroke="#303030" stroke-width="1.5" />
<text x="98.50" y="483.40" font-family='"Liberation Sans", sans-serif' font-size="16.5" font-weight="bold" text-anchor="middle" >2</text>
<line x1="146.20" y1="463.90" x2="146.20" y2="468.10" stroke="#303030" stroke-width="1.5" />
<text x="145.90" y="483.40" font-family='"Liberation Sans", sans-serif' font-size="16.5" font-weight="bold" text-anchor="middle" >3</text>
<line x1="193.60" y1="463.90" x2="193.60" y2="468.10" stroke="#303030" stroke-width="1.5" />
<text x="193.30" y="483.40" font-family='"Liberation Sans", sans-serif' font-size="16.5" font-weight="bold" text-anchor="middle" >4</text>
<line x1="241.00" y1="463.90" x2="241.00" y2="468.10" stroke="#303030" stroke-width="1.5" />
<text x="240.70" y="483.40" font-family='"Liberation Sans", sans-serif' font-size="16.5" font-weight="bold" text-anchor="middle" >5</text>
<line x1="288.40" y1="463.90" x2="288.40" y2="468.10" stroke="#303030" stroke-width="1.5" />
<text x="288.10" y="483.40" font-family='"Liberation Sans", sans-serif' font-size="16.5" font-weight="bold" text-anchor="middle" >6</text>
<line x1="75.10" y1="463.90" x2="75.10" y2="466.40" stroke="#303030" stroke-width="1.2" />
<line x1="122.50" y1="463.90" x2="122.50" y2="466.40" stroke="#303030" stroke-width="1.2" />
<line x1="169.90" y1="463.90" x2="169.90" y2="466.40" stroke="#303030" stroke-width="1.2" />
<line x1="217.30" y1="463.90" x2="217.30" y2="466.40" stroke="#303030" stroke-width="1.2" />
<line x1="264.70" y1="463.90" x2="264.70" y2="466.40" stroke="#303030" stroke-width="1.2" />
<line x1="312.10" y1="463.90" x2="312.10" y2="466.40" stroke="#303030" stroke-width="1.2" />
<text x="38.90" y="370.50" font-family='"Liberation Serif", serif' font-size="16.5" font-weight="bold" text-anchor="middle" transform="rotate(-90 38.9 370.5)">Specific Capacitance / F.g<tspan dy="-6" font-size="10.5">-1</tspan></text>
<text x="189.30" y="496.00" font-family='"Liberation Serif", serif' font-size="16.3" font-weight="bold" text-anchor="middle" >Current Density / A.g<tspan dy="-6.8" font-size="11">-1</tspan></text>
<text x="0.50" y="499.30" font-family='"Liberation Serif", serif' font-size="22" font-weight="normal" text-anchor="start" stroke="#000" stroke-width="0.4">(c)</text>
<rect x="161.40" y="281.10" width="22.00" height="10.60" fill="url(#gK)"/>
<rect x="161.40" y="281.10" width="22.00" height="10.60" fill="none" stroke="#2a2a2a" stroke-width="0.85"/>
<text x="187.20" y="289.50" font-family='"Liberation Sans", sans-serif' font-size="11" font-weight="bold" text-anchor="start" >g-C<tspan baseline-shift="-2" font-size="9">3</tspan>N<tspan baseline-shift="-2" font-size="9">4</tspan></text>
<rect x="161.40" y="297.70" width="22.00" height="10.60" fill="url(#gR)"/>
<rect x="161.40" y="297.70" width="22.00" height="10.60" fill="url(#pR)"/>
<rect x="161.40" y="297.70" width="22.00" height="10.60" fill="none" stroke="#2a2a2a" stroke-width="0.85"/>
<text x="187.20" y="306.10" font-family='"Liberation Sans", sans-serif' font-size="11" font-weight="bold" text-anchor="start" >g-C<tspan baseline-shift="-2" font-size="9">3</tspan>N<tspan baseline-shift="-2" font-size="9">4</tspan>@GO</text>
<rect x="161.40" y="314.60" width="22.00" height="10.60" fill="url(#gG)"/>
<rect x="161.40" y="314.60" width="22.00" height="10.60" fill="url(#pG)"/>
<rect x="161.40" y="314.60" width="22.00" height="10.60" fill="none" stroke="#2a2a2a" stroke-width="0.85"/>
<text x="187.20" y="323.00" font-family='"Liberation Sans", sans-serif' font-size="11" font-weight="bold" text-anchor="start" >GO</text>
<rect x="161.40" y="328.20" width="22.00" height="10.60" fill="url(#gB)"/>
<rect x="161.40" y="328.20" width="22.00" height="10.60" fill="url(#pX6)"/>
<rect x="161.40" y="328.20" width="22.00" height="10.60" fill="none" stroke="#2a2a2a" stroke-width="0.85"/>
<text x="187.20" y="336.60" font-family='"Liberation Sans", sans-serif' font-size="11" font-weight="bold" text-anchor="start" >g-C<tspan baseline-shift="-2" font-size="9">3</tspan>N<tspan baseline-shift="-2" font-size="9">4</tspan>@r-GO(AA)</text>
<rect x="161.40" y="344.40" width="22.00" height="10.60" fill="url(#gC)"/>
<rect x="161.40" y="344.40" width="22.00" height="10.60" fill="none" stroke="#2a2a2a" stroke-width="0.85"/>
<text x="187.20" y="352.80" font-family='"Liberation Sans", sans-serif' font-size="11" font-weight="bold" text-anchor="start" >g-C<tspan baseline-shift="-2" font-size="9">3</tspan>N<tspan baseline-shift="-2" font-size="9">4</tspan>@rGO(NaBH<tspan baseline-shift="-2" font-size="9">4</tspan>)</text>
<polyline points="436.6,351.0 441.3,348.6 446.1,350.2 450.8,346.7 455.9,345.8 460.4,332.0 464.8,322.8 469.9,319.3 474.9,314.9 479.4,302.7 484.1,320.9 488.9,327.7 493.5,339.5 498.2,334.1 502.8,330.9 507.5,329.4 512.2,327.6 516.9,324.3 521.8,321.6 526.4,319.6 531.1,317.8 535.8,317.3 540.5,317.3 545.5,321.6 550.1,325.1 554.8,327.8 559.5,329.2 564.2,331.8 568.8,333.9 574.0,336.6 578.5,339.2 583.5,344.0 588.0,346.5 593.0,348.5 597.7,351.9 602.2,354.6 606.8,357.6 611.8,360.8 616.4,364.2 621.1,367.8 625.8,370.0 630.4,372.0 635.4,374.5 640.0,377.0 644.7,379.1 649.6,382.8 654.3,386.2 658.9,385.7 663.5,387.8 668.2,387.8 673.2,389.6" fill="none" stroke="#333" stroke-width="0.9"/>
<g clip-path="url(#clipD)">
<circle cx="436.6" cy="351.0" r="3.1" fill="url(#ball)"/>
<circle cx="441.3" cy="348.6" r="3.1" fill="url(#ball)"/>
<circle cx="446.1" cy="350.2" r="3.1" fill="url(#ball)"/>
<circle cx="450.8" cy="346.7" r="3.1" fill="url(#ball)"/>
<circle cx="455.9" cy="345.8" r="3.1" fill="url(#ball)"/>
<circle cx="460.4" cy="332.0" r="3.1" fill="url(#ball)"/>
<circle cx="464.8" cy="322.8" r="3.1" fill="url(#ball)"/>
<circle cx="469.9" cy="319.3" r="3.1" fill="url(#ball)"/>
<circle cx="474.9" cy="314.9" r="3.1" fill="url(#ball)"/>
<circle cx="479.4" cy="302.7" r="3.1" fill="url(#ball)"/>
<circle cx="484.1" cy="320.9" r="3.1" fill="url(#ball)"/>
<circle cx="488.9" cy="327.7" r="3.1" fill="url(#ball)"/>
<circle cx="493.5" cy="339.5" r="3.1" fill="url(#ball)"/>
<circle cx="498.2" cy="334.1" r="3.1" fill="url(#ball)"/>
<circle cx="502.8" cy="330.9" r="3.1" fill="url(#ball)"/>
<circle cx="507.5" cy="329.4" r="3.1" fill="url(#ball)"/>
<circle cx="512.2" cy="327.6" r="3.1" fill="url(#ball)"/>
<circle cx="516.9" cy="324.3" r="3.1" fill="url(#ball)"/>
<circle cx="521.8" cy="321.6" r="3.1" fill="url(#ball)"/>
<circle cx="526.4" cy="319.6" r="3.1" fill="url(#ball)"/>
<circle cx="531.1" cy="317.8" r="3.1" fill="url(#ball)"/>
<circle cx="535.8" cy="317.3" r="3.1" fill="url(#ball)"/>
<circle cx="540.5" cy="317.3" r="3.1" fill="url(#ball)"/>
<circle cx="545.5" cy="321.6" r="3.1" fill="url(#ball)"/>
<circle cx="550.1" cy="325.1" r="3.1" fill="url(#ball)"/>
<circle cx="554.8" cy="327.8" r="3.1" fill="url(#ball)"/>
<circle cx="559.5" cy="329.2" r="3.1" fill="url(#ball)"/>
<circle cx="564.2" cy="331.8" r="3.1" fill="url(#ball)"/>
<circle cx="568.8" cy="333.9" r="3.1" fill="url(#ball)"/>
<circle cx="574.0" cy="336.6" r="3.1" fill="url(#ball)"/>
<circle cx="578.5" cy="339.2" r="3.1" fill="url(#ball)"/>
<circle cx="583.5" cy="344.0" r="3.1" fill="url(#ball)"/>
<circle cx="588.0" cy="346.5" r="3.1" fill="url(#ball)"/>
<circle cx="593.0" cy="348.5" r="3.1" fill="url(#ball)"/>
<circle cx="597.7" cy="351.9" r="3.1" fill="url(#ball)"/>
<circle cx="602.2" cy="354.6" r="3.1" fill="url(#ball)"/>
<circle cx="606.8" cy="357.6" r="3.1" fill="url(#ball)"/>
<circle cx="611.8" cy="360.8" r="3.1" fill="url(#ball)"/>
<circle cx="616.4" cy="364.2" r="3.1" fill="url(#ball)"/>
<circle cx="621.1" cy="367.8" r="3.1" fill="url(#ball)"/>
<circle cx="625.8" cy="370.0" r="3.1" fill="url(#ball)"/>
<circle cx="630.4" cy="372.0" r="3.1" fill="url(#ball)"/>
<circle cx="635.4" cy="374.5" r="3.1" fill="url(#ball)"/>
<circle cx="640.0" cy="377.0" r="3.1" fill="url(#ball)"/>
<circle cx="644.7" cy="379.1" r="3.1" fill="url(#ball)"/>
<circle cx="649.6" cy="382.8" r="3.1" fill="url(#ball)"/>
<circle cx="654.3" cy="386.2" r="3.1" fill="url(#ball)"/>
<circle cx="658.9" cy="385.7" r="3.1" fill="url(#ball)"/>
<circle cx="663.5" cy="387.8" r="3.1" fill="url(#ball)"/>
<circle cx="668.2" cy="387.8" r="3.1" fill="url(#ball)"/>
<circle cx="673.2" cy="389.6" r="3.1" fill="url(#ball)"/>
</g>
<rect x="436.80" y="277.10" width="246.10" height="183.40" fill="none" stroke="#303030" stroke-width="1.6"/>
<line x1="432.60" y1="460.70" x2="436.80" y2="460.70" stroke="#303030" stroke-width="1.5" />
<text x="429.70" y="465.40" font-family='"Liberation Serif", serif' font-size="16.8" font-weight="bold" text-anchor="end" >40</text>
<line x1="432.60" y1="424.00" x2="436.80" y2="424.00" stroke="#303030" stroke-width="1.5" />
<text x="429.70" y="428.70" font-family='"Liberation Serif", serif' font-size="16.8" font-weight="bold" text-anchor="end" >60</text>
<line x1="432.60" y1="387.30" x2="436.80" y2="387.30" stroke="#303030" stroke-width="1.5" />
<text x="429.70" y="392.00" font-family='"Liberation Serif", serif' font-size="16.8" font-weight="bold" text-anchor="end" >80</text>
<line x1="432.60" y1="350.60" x2="436.80" y2="350.60" stroke="#303030" stroke-width="1.5" />
<text x="429.70" y="355.30" font-family='"Liberation Serif", serif' font-size="16.8" font-weight="bold" text-anchor="end" >100</text>
<line x1="432.60" y1="313.90" x2="436.80" y2="313.90" stroke="#303030" stroke-width="1.5" />
<text x="429.70" y="318.60" font-family='"Liberation Serif", serif' font-size="16.8" font-weight="bold" text-anchor="end" >120</text>
<line x1="432.60" y1="277.20" x2="436.80" y2="277.20" stroke="#303030" stroke-width="1.5" />
<text x="429.70" y="281.90" font-family='"Liberation Serif", serif' font-size="16.8" font-weight="bold" text-anchor="end" >140</text>
<line x1="434.30" y1="442.35" x2="436.80" y2="442.35" stroke="#303030" stroke-width="1.2" />
<line x1="434.30" y1="405.65" x2="436.80" y2="405.65" stroke="#303030" stroke-width="1.2" />
<line x1="434.30" y1="368.95" x2="436.80" y2="368.95" stroke="#303030" stroke-width="1.2" />
<line x1="434.30" y1="332.25" x2="436.80" y2="332.25" stroke="#303030" stroke-width="1.2" />
<line x1="434.30" y1="295.55" x2="436.80" y2="295.55" stroke="#303030" stroke-width="1.2" />
<line x1="436.80" y1="460.50" x2="436.80" y2="464.70" stroke="#303030" stroke-width="1.5" />
<text x="439.80" y="478.10" font-family='"Liberation Serif", serif' font-size="16.8" font-weight="bold" text-anchor="middle" transform="rotate(-15 439.80 472.50)">0</text>
<line x1="474.60" y1="460.50" x2="474.60" y2="464.70" stroke="#303030" stroke-width="1.5" />
<text x="477.60" y="478.10" font-family='"Liberation Serif", serif' font-size="16.8" font-weight="bold" text-anchor="middle" transform="rotate(-15 477.60 472.50)">800</text>
<line x1="512.40" y1="460.50" x2="512.40" y2="464.70" stroke="#303030" stroke-width="1.5" />
<text x="515.40" y="478.10" font-family='"Liberation Serif", serif' font-size="16.8" font-weight="bold" text-anchor="middle" transform="rotate(-15 515.40 472.50)">1600</text>
<line x1="550.20" y1="460.50" x2="550.20" y2="464.70" stroke="#303030" stroke-width="1.5" />
<text x="553.20" y="478.10" font-family='"Liberation Serif", serif' font-size="16.8" font-weight="bold" text-anchor="middle" transform="rotate(-15 553.20 472.50)">2400</text>
<line x1="588.00" y1="460.50" x2="588.00" y2="464.70" stroke="#303030" stroke-width="1.5" />
<text x="591.00" y="478.10" font-family='"Liberation Serif", serif' font-size="16.8" font-weight="bold" text-anchor="middle" transform="rotate(-15 591.00 472.50)">3200</text>
<line x1="625.80" y1="460.50" x2="625.80" y2="464.70" stroke="#303030" stroke-width="1.5" />
<text x="628.80" y="478.10" font-family='"Liberation Serif", serif' font-size="16.8" font-weight="bold" text-anchor="middle" transform="rotate(-15 628.80 472.50)">4000</text>
<line x1="663.60" y1="460.50" x2="663.60" y2="464.70" stroke="#303030" stroke-width="1.5" />
<text x="666.60" y="478.10" font-family='"Liberation Serif", serif' font-size="16.8" font-weight="bold" text-anchor="middle" transform="rotate(-15 666.60 472.50)">4800</text>
<line x1="455.70" y1="460.50" x2="455.70" y2="463.00" stroke="#303030" stroke-width="1.2" />
<line x1="493.50" y1="460.50" x2="493.50" y2="463.00" stroke="#303030" stroke-width="1.2" />
<line x1="531.30" y1="460.50" x2="531.30" y2="463.00" stroke="#303030" stroke-width="1.2" />
<line x1="569.10" y1="460.50" x2="569.10" y2="463.00" stroke="#303030" stroke-width="1.2" />
<line x1="606.90" y1="460.50" x2="606.90" y2="463.00" stroke="#303030" stroke-width="1.2" />
<line x1="644.70" y1="460.50" x2="644.70" y2="463.00" stroke="#303030" stroke-width="1.2" />
<line x1="682.50" y1="460.50" x2="682.50" y2="463.00" stroke="#303030" stroke-width="1.2" />
<text x="401.40" y="367.40" font-family='"Liberation Serif", serif' font-size="16.9" font-weight="bold" text-anchor="middle" transform="rotate(-90 401.6 368.0)">Capacitive Retention / %</text>
<text x="556.60" y="495.60" font-family='"Liberation Serif", serif' font-size="16.8" font-weight="bold" text-anchor="middle" >Cycle Number</text>
<text x="351.80" y="499.30" font-family='"Liberation Serif", serif' font-size="22" font-weight="normal" text-anchor="start" stroke="#000" stroke-width="0.4">(d)</text>
<text x="671.20" y="300.20" font-family='"Liberation Sans", sans-serif' font-size="12.8" font-weight="bold" text-anchor="end" >g-C<tspan baseline-shift="-3" font-size="9.5">3</tspan>N<tspan baseline-shift="-3" font-size="9.5">4</tspan>@r-GO(AA)</text>
</svg>
</body></html>
